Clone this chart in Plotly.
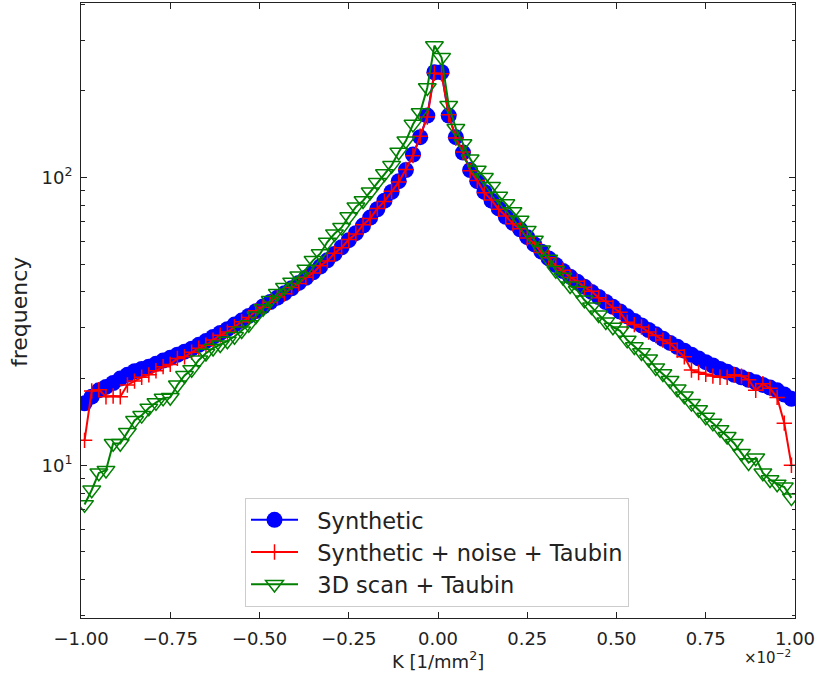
import plotly.graph_objects as go

# Bin centres, K in units of 1e-2 1/mm^2
K = [-0.99, -0.97, -0.95, -0.93, -0.91, -0.89, -0.87, -0.85, -0.83, -0.81,
     -0.79, -0.77, -0.75, -0.73, -0.71, -0.69, -0.67, -0.65, -0.63, -0.61,
     -0.59, -0.57, -0.55, -0.53, -0.51, -0.49, -0.47, -0.45, -0.43, -0.41,
     -0.39, -0.37, -0.35, -0.33, -0.31, -0.29, -0.27, -0.25, -0.23, -0.21,
     -0.19, -0.17, -0.15, -0.13, -0.11, -0.09, -0.07, -0.05, -0.03, -0.01,
     0.01, 0.03, 0.05, 0.07, 0.09, 0.11, 0.13, 0.15, 0.17, 0.19,
     0.21, 0.23, 0.25, 0.27, 0.29, 0.31, 0.33, 0.35, 0.37, 0.39,
     0.41, 0.43, 0.45, 0.47, 0.49, 0.51, 0.53, 0.55, 0.57, 0.59,
     0.61, 0.63, 0.65, 0.67, 0.69, 0.71, 0.73, 0.75, 0.77, 0.79,
     0.81, 0.83, 0.85, 0.87, 0.89, 0.91, 0.93, 0.95, 0.97, 0.99]

synthetic = [16.4, 17.3, 18.2, 18.7, 19.3, 20.0, 20.6, 21.2, 21.6, 22.0,
             22.5, 23.1, 23.6, 24.2, 24.8, 25.4, 26.2, 27.0, 27.9, 28.8,
             29.7, 30.8, 31.8, 33.0, 34.3, 35.6, 36.9, 38.2, 39.6, 41.2,
             43.0, 44.8, 46.8, 49.0, 51.5, 54.2, 57.2, 60.5, 64.0, 68.0,
             72.5, 77.5, 83.0, 89.0, 97.0, 106.0, 120.0, 138.0, 164.0, 232.0,
             232.0, 164.0, 138.0, 122.0, 106.0, 97.0, 89.0, 83.0, 78.0, 73.0,
             69.5, 66.0, 62.0, 58.5, 55.2, 52.3, 49.6, 47.3, 45.2, 43.4,
             41.7, 40.0, 38.4, 36.9, 35.5, 34.2, 32.9, 31.7, 30.6, 29.5,
             28.5, 27.5, 26.6, 25.8, 25.0, 24.2, 23.5, 22.8, 22.2, 21.6,
             21.1, 20.6, 20.2, 19.8, 19.4, 19.0, 18.6, 18.2, 17.6, 17.0]

noise_taubin = [12.2, 18.1, 18.3, 17.3, 17.4, 17.3, 19.0, 19.6, 20.2, 20.6,
                21.3, 22.0, 22.4, 23.5, 23.8, 24.7, 25.5, 26.1, 27.2, 28.3,
                29.0, 30.3, 31.5, 32.6, 34.4, 35.4, 36.8, 38.4, 39.4, 41.4,
                42.8, 45.0, 46.5, 49.3, 51.2, 54.5, 57.0, 60.8, 63.6, 68.4,
                72.0, 77.9, 82.5, 89.5, 96.3, 106.5, 119.0, 139.0, 162.0, 230.0,
                229.0, 165.0, 137.0, 122.5, 105.5, 97.5, 88.5, 83.4, 77.5, 73.4,
                69.0, 66.3, 61.6, 58.9, 54.8, 52.6, 49.3, 47.6, 44.9, 43.6,
                41.5, 40.2, 38.2, 37.1, 35.3, 34.0, 31.4, 30.8, 30.2, 29.0,
                28.2, 27.2, 26.5, 25.1, 23.8, 21.4, 21.0, 20.7, 20.4, 20.2,
                20.2, 20.6, 20.4, 19.8, 18.2, 19.2, 18.5, 17.2, 14.0, 10.0]

scan_taubin = [7.3, 8.2, 9.4, 9.6, 11.9, 11.9, 13.0, 14.3, 14.9, 15.8,
               16.5, 17.1, 17.2, 19.0, 20.5, 21.5, 23.2, 24.5, 25.5, 26.2,
               27.0, 28.0, 29.3, 30.8, 33.0, 35.0, 37.4, 39.5, 41.5, 43.3,
               45.5, 48.0, 51.5, 54.3, 59.6, 63.7, 67.0, 73.0, 79.0, 83.0,
               89.0, 96.0, 103.0, 110.0, 122.5, 134.0, 153.0, 168.0, 205.0, 287.0,
               261.0, 178.0, 148.0, 131.0, 116.0, 106.0, 100.0, 93.0, 86.0, 81.0,
               76.0, 71.0, 65.5, 60.5, 56.0, 52.0, 47.5, 45.0, 42.0, 40.5,
               37.5, 35.5, 33.3, 31.5, 30.2, 29.3, 27.2, 25.8, 24.6, 23.4,
               21.8, 20.8, 19.7, 18.4, 17.4, 16.4, 15.6, 14.7, 14.0, 13.3,
               12.6, 11.9, 11.0, 10.2, 10.6, 9.4, 8.9, 8.6, 8.4, 7.7]

series_names = ["Synthetic", "Synthetic + noise + Taubin", "3D scan + Taubin"]

x_tickvals = [-1.0, -0.75, -0.5, -0.25, 0.0, 0.25, 0.5, 0.75, 1.0]
x_ticktext = ["\u22121.00", "\u22120.75", "\u22120.50", "\u22120.25", "0.00",
              "0.25", "0.50", "0.75", "1.00"]
y_tickvals = [10, 100]
y_ticktext = ["10<sup>1</sup>", "10<sup>2</sup>"]
y_minor = [3, 4, 5, 6, 7, 8, 9, 20, 30, 40, 50, 60, 70, 80, 90, 200, 300, 400]

FONT = "DejaVu Sans"
PAD = "\u00a0\u00a0"

fig = go.Figure()
fig.add_trace(go.Scatter(
    x=K, y=synthetic, mode="lines+markers", name=PAD + series_names[0], legendgroup="a",
    line=dict(color="#0000ff", width=2),
    marker=dict(symbol="circle", size=16, color="#0000ff"),
))
fig.add_trace(go.Scatter(
    x=K, y=noise_taubin, mode="lines+markers", name=PAD + series_names[1],
    legendgroup="b",
    line=dict(color="#ff0000", width=2),
    marker=dict(symbol="cross-thin", size=11, color="#ff0000",
                line=dict(color="#ff0000", width=1.5)),
))
fig.add_trace(go.Scatter(
    x=K, y=scan_taubin, mode="lines+markers", name=PAD + series_names[2],
    legendgroup="c",
    line=dict(color="#008000", width=2),
    marker=dict(symbol="triangle-down-open", size=15.5, color="#008000",
                line=dict(color="#008000", width=1.5)),
))

axis_common = dict(
    showline=True, linecolor="#222222", linewidth=1, mirror="allticks",
    ticks="inside", tickcolor="#222222", showgrid=False, zeroline=False,
    tickfont=dict(family=FONT, size=18, color="#222222"),
)

fig.update_layout(
    width=819, height=675,
    margin=dict(l=81, r=24, t=3, b=57),
    paper_bgcolor="white", plot_bgcolor="white",
    font=dict(family=FONT, color="#222222"),
    showlegend=True,
    legend=dict(
        x=0.2297, y=0.0184, xanchor="left", yanchor="bottom",
        bgcolor="rgba(255,255,255,0.8)", bordercolor="#cccccc", borderwidth=1,
        font=dict(family=FONT, size=22.5, color="#222222"),
        itemwidth=47, tracegroupgap=0,
    ),
    xaxis=dict(
        range=[-1, 1], tickvals=x_tickvals, ticktext=x_ticktext,
        ticklen=6, tickwidth=1, ticklabelstandoff=4, **axis_common,
    ),
    yaxis=dict(
        type="log", range=[0.469, 2.606], tickvals=y_tickvals, ticktext=y_ticktext,
        ticklen=6, tickwidth=1, ticklabelstandoff=4,
        minor=dict(tickvals=y_minor, ticks="inside", ticklen=3.5, tickwidth=1,
                   tickcolor="#222222", showgrid=False),
        **axis_common,
    ),
    annotations=[
        dict(text="K [1/mm<sup>2</sup>]", xref="paper", yref="paper",
             x=0.5, y=-0.068, xanchor="center", yanchor="middle", showarrow=False,
             font=dict(family=FONT, size=18, color="#222222")),
        dict(text="frequency", xref="paper", yref="paper", textangle=-90,
             x=-0.0854, y=0.4976, xanchor="center", yanchor="middle", showarrow=False,
             font=dict(family=FONT, size=22, color="#222222")),
        dict(text="\u00d710<sup>\u22122</sup>", xref="paper", yref="paper",
             x=0.997, y=-0.063, xanchor="right", yanchor="middle", showarrow=False,
             font=dict(family=FONT, size=15, color="#222222")),
    ],
)

fig.write_html("out.html")
